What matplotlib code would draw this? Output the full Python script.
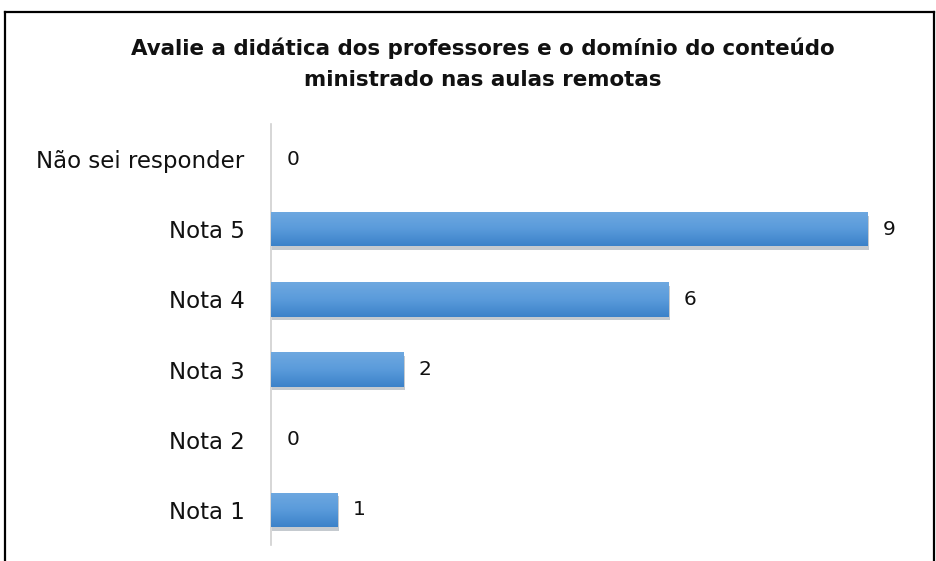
import numpy as np
import matplotlib.pyplot as plt
import matplotlib.patheffects as pe
from matplotlib.lines import Line2D
from matplotlib.colors import LinearSegmentedColormap

categorias = ['Não sei responder', 'Nota 5', 'Nota 4', 'Nota 3', 'Nota 2', 'Nota 1']
valores = [0, 9, 6, 2, 0, 1]
titulo = 'Avalie a didática dos professores e o domínio do conteúdo\nministrado nas aulas remotas'

W, H = 937, 561
fig = plt.figure(figsize=(W / 100, H / 100), dpi=100)
plt.rcParams['font.family'] = ['DejaVu Sans']

# axes placed in pixel coordinates
left, right, top, bottom = 271, 907, 124, 545
ax = fig.add_axes([left / W, 1 - bottom / H, (right - left) / W, (bottom - top) / H])

pos = list(range(len(categorias)))
bars = ax.barh(pos, valores, height=0.49, color='#4f93d8', zorder=3)

# vertical gradient inside each bar (light on top, darker at the bottom)
grad = LinearSegmentedColormap.from_list('g', ['#6ea8e0', '#5a9bdb', '#3c82c9'])
for b in bars:
    b.set_path_effects([pe.SimplePatchShadow(offset=(1, -2.5), alpha=0.25), pe.Normal()])
    if b.get_width() > 0:
        x0, y0 = b.get_x(), b.get_y()
        im = ax.imshow(np.linspace(0, 1, 50).reshape(-1, 1), cmap=grad, aspect='auto',
                       extent=(x0, x0 + b.get_width(), y0 + b.get_height(), y0),
                       zorder=4, origin='upper')
        im.set_clip_path(b)

for p, v in zip(pos, valores):
    ax.annotate(str(v), (v, p), xytext=(11, 0), textcoords='offset points',
                va='center', ha='left', fontsize=14.5, color='#111111')

ax.set_yticks(pos)
ax.set_yticklabels(categorias, fontsize=16.5, color='#111111')
ax.tick_params(axis='y', length=0, pad=19)
ax.set_xticks([])
ax.set_xlim(0, 9.6)
ax.set_ylim(len(categorias) - 0.5, -0.5)
for s in ['top', 'right', 'bottom']:
    ax.spines[s].set_visible(False)
ax.spines['left'].set_color('#d0d0d0')
ax.spines['left'].set_linewidth(1.2)

fig.text(483 / W, 1 - 64 / H, titulo, ha='center', va='center', fontsize=15.4,
         fontweight='bold', linespacing=1.7, color='#111111')

# outer frame: top, left and right only
fig.add_artist(Line2D([5 / W, 5 / W], [0, 1 - 12 / H], transform=fig.transFigure, color='black', lw=1.6))
fig.add_artist(Line2D([5 / W, 934 / W], [1 - 12 / H, 1 - 12 / H], transform=fig.transFigure, color='black', lw=1.6))
fig.add_artist(Line2D([934 / W, 934 / W], [0, 1 - 12 / H], transform=fig.transFigure, color='black', lw=1.6))

fig.savefig('out.png', dpi=100)
